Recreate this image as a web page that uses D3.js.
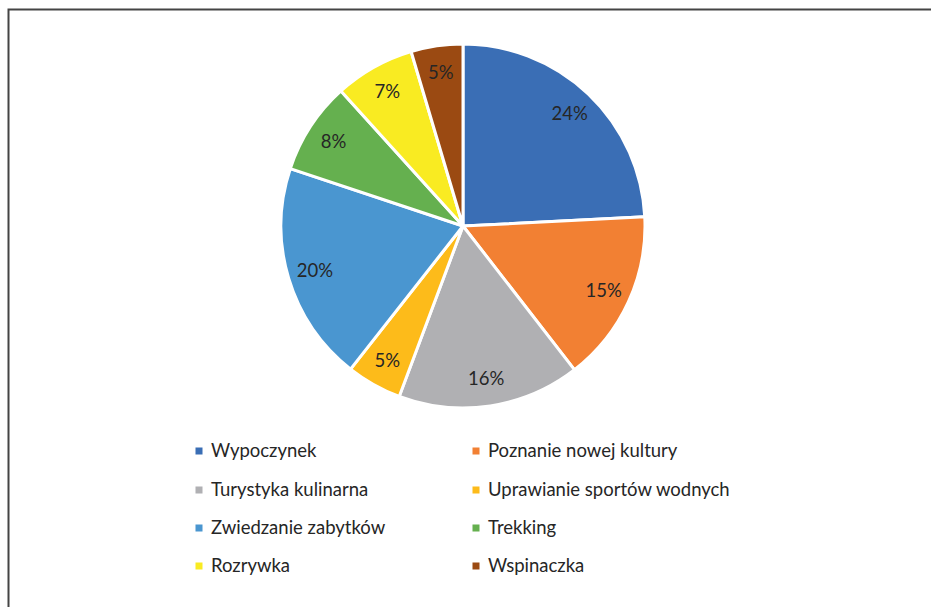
<!DOCTYPE html>
<html>
<head>
<meta charset="utf-8">
<script src="https://cdn.jsdelivr.net/npm/d3@7"></script>
<style>
  body { margin: 0; background: #fff; }
  svg { display: block; }
</style>
</head>
<body>
<script>
// chart data
var categories = ["Wypoczynek", "Poznanie nowej kultury", "Turystyka kulinarna",
  "Uprawianie sportów wodnych", "Zwiedzanie zabytków", "Trekking", "Rozrywka", "Wspinaczka"];
var values = [24.2, 15.3, 16.2, 4.9, 19.5, 8.2, 7.1, 4.6];
var colors = ["#3a6eb5", "#f28033", "#b0b0b3", "#fdbb1a", "#4a96d0", "#65b04f", "#f9eb22", "#9b4a12"];

var svgWidth = 931;
var svgHeight = 607;

var svg = d3.select("body")
  .append("svg")
    .attr("width", svgWidth)
    .attr("height", svgHeight);

// frame (only top and left edges show)
svg.append("rect")
  .attr("x", 8.5)
  .attr("y", 9.5)
  .attr("width", 940)
  .attr("height", 620)
  .attr("fill", "none")
  .attr("stroke", "#444")
  .attr("stroke-width", 2);

var cx = 463, cy = 226, radius = 182;
var total = d3.sum(values);

var pie = d3.pie().sort(null).value(function(d) { return d; });
var arcs = pie(values);

var arc = d3.arc().innerRadius(0).outerRadius(radius);
var labelArc = d3.arc().innerRadius(radius * 0.85).outerRadius(radius * 0.85);

var g = svg.append("g")
  .attr("transform", "translate(" + cx + "," + cy + ")");

g.selectAll("path")
  .data(arcs)
  .enter()
  .append("path")
    .attr("d", arc)
    .attr("fill", function(d, i) { return colors[i]; })
    .attr("stroke", "#fff")
    .attr("stroke-width", 3)
    .attr("stroke-linejoin", "round");

g.selectAll("text")
  .data(arcs)
  .enter()
  .append("text")
    .attr("transform", function(d) { return "translate(" + labelArc.centroid(d) + ")"; })
    .attr("text-anchor", "middle")
    .attr("dy", "0.35em")
    .style("font-family", "Lato, 'Open Sans', sans-serif")
    .style("font-size", "18.5px")
    .style("fill", "#262626")
    .text(function(d) { return Math.round(d.value / total * 100) + "%"; });

// legend, two columns
var legendX = [199, 476];
var legendY = [451, 490, 528, 566];

var legend = svg.selectAll(".legend")
  .data(categories)
  .enter()
  .append("g")
    .attr("class", "legend")
    .attr("transform", function(d, i) {
      return "translate(" + legendX[i % 2] + "," + legendY[Math.floor(i / 2)] + ")";
    });

legend.append("rect")
  .attr("x", -3.5)
  .attr("y", -3.5)
  .attr("width", 7)
  .attr("height", 7)
  .attr("fill", function(d, i) { return colors[i]; });

legend.append("text")
  .attr("x", 12)
  .attr("dy", "0.35em")
  .style("font-family", "Lato, 'Open Sans', sans-serif")
  .style("font-size", "18.5px")
  .style("fill", "#262626")
  .text(function(d) { return d; });
</script>
</body>
</html>
